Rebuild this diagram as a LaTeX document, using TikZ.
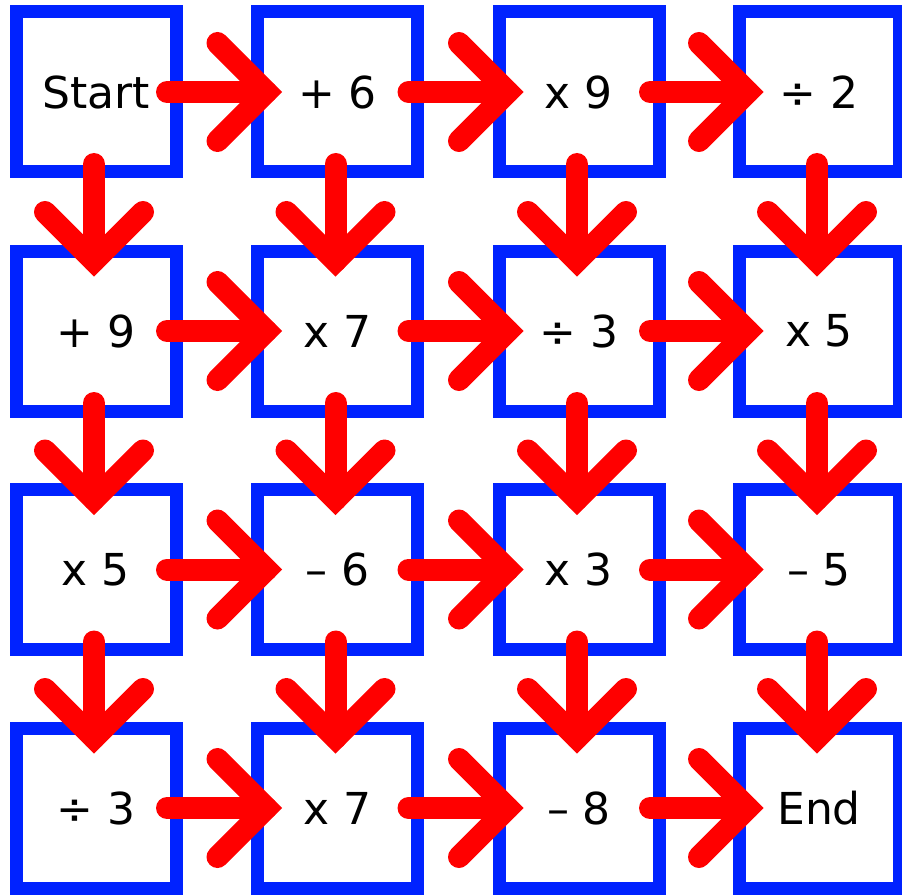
\documentclass[tikz,border=0pt]{standalone}
\usepackage{fontspec}
\setmainfont{DejaVu Sans}
\usetikzlibrary{calc}
\definecolor{boxblue}{RGB}{0,34,255}
\definecolor{arrred}{RGB}{255,0,0}
\begin{document}
\begin{tikzpicture}[x=1pt,y=-1pt,
  opbox/.style={draw=boxblue, line width=13pt, minimum size=160pt, inner sep=0pt,
    font=\fontsize{44}{50}\selectfont, text=black},
  shaft/.style={draw=arrred, line width=22pt, line cap=round},
  barb/.style={draw=arrred, line width=22pt, line cap=round, line join=miter}]
\useasboundingbox (0,0) rectangle (902,896);
% boxes
\node[opbox] (b11) at (96,92)     {Start};
\node[opbox] (b12) at (337.5,92)  {+ 6};
\node[opbox] (b13) at (579,92)    {x 9};
\node[opbox] (b14) at (819,92)    {÷ 2};
\node[opbox] (b21) at (96,331)    {+ 9};
\node[opbox] (b22) at (337.5,331) {x 7};
\node[opbox] (b23) at (579,331)   {÷ 3};
\node[opbox] (b24) at (819,331)   {x 5};
\node[opbox] (b31) at (96,569.5)    {x 5};
\node[opbox] (b32) at (337.5,569.5) {– 6};
\node[opbox] (b33) at (579,569.5)   {x 3};
\node[opbox] (b34) at (819,569.5)   {– 5};
\node[opbox] (b41) at (96,808)    {÷ 3};
\node[opbox] (b42) at (337.5,808) {x 7};
\node[opbox] (b43) at (579,808)   {– 8};
\node[opbox] (b44) at (819,808)   {End};
% horizontal arrows
\foreach \i in {1,2,3,4}{
  \foreach \j [evaluate=\j as \k using int(\j+1)] in {1,2,3}{
    \draw[shaft] ($(b\i\j.center)+(71,0)$) -- ($(b\i\k.center)+(-71,0)$);
    \draw[barb] ($(b\i\k.center)+(-120,-49)$) -- ($(b\i\k.center)+(-71,0)$) -- ($(b\i\k.center)+(-120,49)$);
  }
}
% vertical arrows
\foreach \j in {1,2,3,4}{
  \foreach \i [evaluate=\i as \k using int(\i+1)] in {1,2,3}{
    \draw[shaft] ($(b\i\j.center)+(-2,72)$) -- ($(b\k\j.center)+(-2,-70)$);
    \draw[barb] ($(b\k\j.center)+(-51,-119)$) -- ($(b\k\j.center)+(-2,-70)$) -- ($(b\k\j.center)+(47,-119)$);
  }
}
\end{tikzpicture}
\end{document}
